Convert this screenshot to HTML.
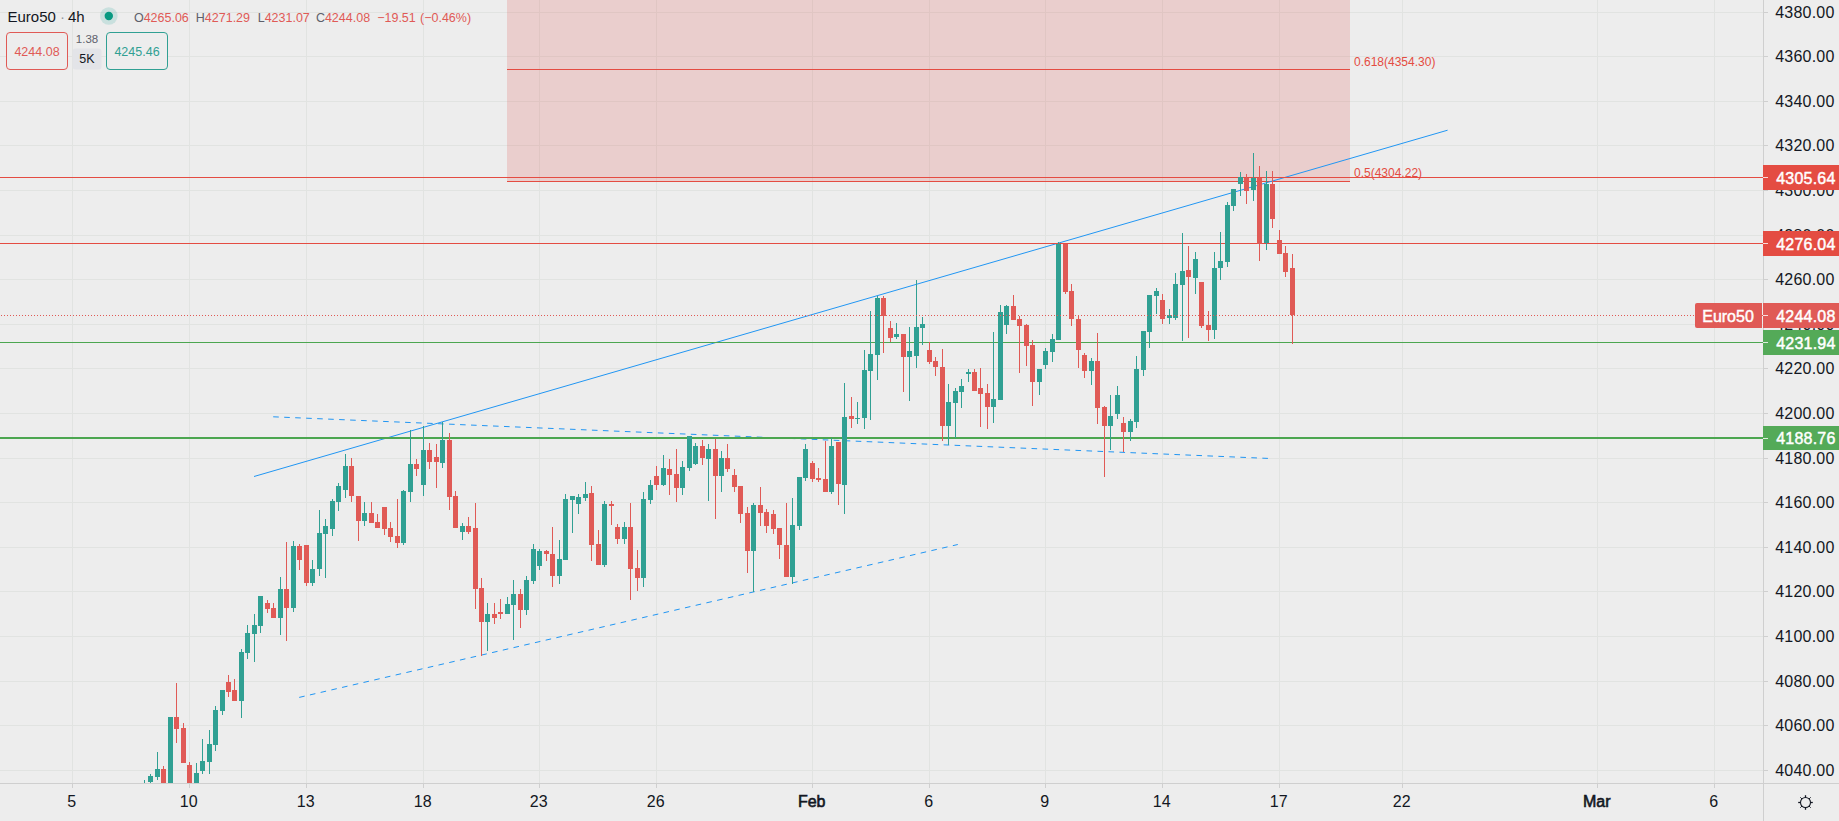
<!DOCTYPE html><html><head><meta charset="utf-8"><style>html,body{margin:0;padding:0;}body{width:1839px;height:821px;overflow:hidden;background:#ededed;font-family:"Liberation Sans", sans-serif;}svg{display:block;}</style></head><body>
<svg width="1839" height="821" viewBox="0 0 1839 821" font-family='"Liberation Sans", sans-serif'>
<rect x="0" y="0" width="1839" height="821" fill="#ededed"/>
<defs><clipPath id="pane"><rect x="0" y="0" width="1763" height="783"/></clipPath></defs>
<g><rect x="0" y="12" width="1763" height="1" fill="#e1e3e1"/><rect x="0" y="56" width="1763" height="1" fill="#e1e3e1"/><rect x="0" y="101" width="1763" height="1" fill="#e1e3e1"/><rect x="0" y="145" width="1763" height="1" fill="#e1e3e1"/><rect x="0" y="190" width="1763" height="1" fill="#e1e3e1"/><rect x="0" y="235" width="1763" height="1" fill="#e1e3e1"/><rect x="0" y="279" width="1763" height="1" fill="#e1e3e1"/><rect x="0" y="324" width="1763" height="1" fill="#e1e3e1"/><rect x="0" y="368" width="1763" height="1" fill="#e1e3e1"/><rect x="0" y="413" width="1763" height="1" fill="#e1e3e1"/><rect x="0" y="458" width="1763" height="1" fill="#e1e3e1"/><rect x="0" y="502" width="1763" height="1" fill="#e1e3e1"/><rect x="0" y="547" width="1763" height="1" fill="#e1e3e1"/><rect x="0" y="591" width="1763" height="1" fill="#e1e3e1"/><rect x="0" y="636" width="1763" height="1" fill="#e1e3e1"/><rect x="0" y="681" width="1763" height="1" fill="#e1e3e1"/><rect x="0" y="725" width="1763" height="1" fill="#e1e3e1"/><rect x="0" y="770" width="1763" height="1" fill="#e1e3e1"/><rect x="72" y="0" width="1" height="783" fill="#e1e3e1"/><rect x="189" y="0" width="1" height="783" fill="#e1e3e1"/><rect x="306" y="0" width="1" height="783" fill="#e1e3e1"/><rect x="423" y="0" width="1" height="783" fill="#e1e3e1"/><rect x="539" y="0" width="1" height="783" fill="#e1e3e1"/><rect x="656" y="0" width="1" height="783" fill="#e1e3e1"/><rect x="812" y="0" width="1" height="783" fill="#e1e3e1"/><rect x="929" y="0" width="1" height="783" fill="#e1e3e1"/><rect x="1045" y="0" width="1" height="783" fill="#e1e3e1"/><rect x="1162" y="0" width="1" height="783" fill="#e1e3e1"/><rect x="1279" y="0" width="1" height="783" fill="#e1e3e1"/><rect x="1402" y="0" width="1" height="783" fill="#e1e3e1"/><rect x="1597" y="0" width="1" height="783" fill="#e1e3e1"/><rect x="1714" y="0" width="1" height="783" fill="#e1e3e1"/></g>
<g clip-path="url(#pane)">
<rect x="507" y="0" width="843" height="181" fill="#e05a56" fill-opacity="0.21"/>
<rect x="507" y="69" width="843" height="1" fill="#e44c42"/>
<rect x="507" y="181" width="843" height="1" fill="#e44c42"/>
<text x="1354" y="65.5" font-size="12" fill="#e44c42">0.618(4354.30)</text>
<text x="1354" y="176.5" font-size="12" fill="#e44c42">0.5(4304.22)</text>
<line x1="254" y1="476.5" x2="1447.6" y2="130.2" stroke="#2196f3" stroke-width="1"/>
<line x1="273.2" y1="416.8" x2="1268" y2="458.4" stroke="#2196f3" stroke-width="1" stroke-dasharray="5.6 5.4"/>
<line x1="299.2" y1="697.4" x2="957.8" y2="544.5" stroke="#2196f3" stroke-width="1" stroke-dasharray="5.6 5.4"/>
<rect x="0" y="177" width="1763" height="1" fill="#e44c42"/>
<rect x="0" y="243" width="1763" height="1" fill="#e44c42"/>
<rect x="0" y="342" width="1763" height="1" fill="#4ca650"/>
<rect x="0" y="437" width="1763" height="2" fill="#4ca650"/>
<g shape-rendering="crispEdges"><rect x="144" y="780" width="1" height="10" fill="#30a093"/><rect x="142" y="783" width="5" height="7" fill="#30a093"/><rect x="150" y="774" width="1" height="9" fill="#30a093"/><rect x="148" y="776" width="5" height="6" fill="#30a093"/><rect x="157" y="752" width="1" height="28" fill="#30a093"/><rect x="155" y="769" width="5" height="8" fill="#30a093"/><rect x="163" y="766" width="1" height="34" fill="#e05a56"/><rect x="161" y="769" width="5" height="31" fill="#e05a56"/><rect x="170" y="717" width="1" height="83" fill="#30a093"/><rect x="168" y="717" width="5" height="83" fill="#30a093"/><rect x="176" y="683" width="1" height="60" fill="#e05a56"/><rect x="174" y="717" width="5" height="12" fill="#e05a56"/><rect x="183" y="723" width="1" height="40" fill="#e05a56"/><rect x="181" y="728" width="5" height="35" fill="#e05a56"/><rect x="189" y="762" width="1" height="38" fill="#e05a56"/><rect x="187" y="765" width="5" height="35" fill="#e05a56"/><rect x="196" y="763" width="1" height="37" fill="#30a093"/><rect x="194" y="773" width="5" height="27" fill="#30a093"/><rect x="202" y="739" width="1" height="35" fill="#30a093"/><rect x="200" y="761" width="5" height="10" fill="#30a093"/><rect x="209" y="730" width="1" height="44" fill="#30a093"/><rect x="207" y="744" width="5" height="18" fill="#30a093"/><rect x="215" y="706" width="1" height="45" fill="#30a093"/><rect x="213" y="710" width="5" height="35" fill="#30a093"/><rect x="222" y="690" width="1" height="25" fill="#30a093"/><rect x="220" y="690" width="5" height="21" fill="#30a093"/><rect x="228" y="675" width="1" height="22" fill="#e05a56"/><rect x="226" y="682" width="5" height="10" fill="#e05a56"/><rect x="234" y="679" width="1" height="22" fill="#e05a56"/><rect x="232" y="690" width="5" height="11" fill="#e05a56"/><rect x="241" y="649" width="1" height="69" fill="#30a093"/><rect x="239" y="652" width="5" height="49" fill="#30a093"/><rect x="247" y="625" width="1" height="34" fill="#30a093"/><rect x="245" y="633" width="5" height="20" fill="#30a093"/><rect x="254" y="614" width="1" height="48" fill="#30a093"/><rect x="252" y="625" width="5" height="9" fill="#30a093"/><rect x="260" y="596" width="1" height="37" fill="#30a093"/><rect x="258" y="596" width="5" height="30" fill="#30a093"/><rect x="267" y="600" width="1" height="13" fill="#e05a56"/><rect x="265" y="603" width="5" height="6" fill="#e05a56"/><rect x="273" y="603" width="1" height="15" fill="#e05a56"/><rect x="271" y="608" width="5" height="10" fill="#e05a56"/><rect x="280" y="577" width="1" height="58" fill="#30a093"/><rect x="278" y="589" width="5" height="29" fill="#30a093"/><rect x="286" y="542" width="1" height="99" fill="#e05a56"/><rect x="284" y="589" width="5" height="19" fill="#e05a56"/><rect x="293" y="541" width="1" height="71" fill="#30a093"/><rect x="291" y="546" width="5" height="62" fill="#30a093"/><rect x="299" y="544" width="1" height="26" fill="#e05a56"/><rect x="297" y="546" width="5" height="14" fill="#e05a56"/><rect x="306" y="545" width="1" height="41" fill="#e05a56"/><rect x="304" y="545" width="5" height="38" fill="#e05a56"/><rect x="312" y="560" width="1" height="26" fill="#30a093"/><rect x="310" y="569" width="5" height="14" fill="#30a093"/><rect x="319" y="510" width="1" height="66" fill="#30a093"/><rect x="317" y="533" width="5" height="36" fill="#30a093"/><rect x="325" y="519" width="1" height="59" fill="#30a093"/><rect x="323" y="526" width="5" height="8" fill="#30a093"/><rect x="332" y="499" width="1" height="37" fill="#30a093"/><rect x="330" y="501" width="5" height="28" fill="#30a093"/><rect x="338" y="483" width="1" height="28" fill="#30a093"/><rect x="336" y="486" width="5" height="16" fill="#30a093"/><rect x="345" y="454" width="1" height="44" fill="#30a093"/><rect x="343" y="466" width="5" height="24" fill="#30a093"/><rect x="351" y="458" width="1" height="44" fill="#e05a56"/><rect x="349" y="466" width="5" height="30" fill="#e05a56"/><rect x="358" y="496" width="1" height="45" fill="#e05a56"/><rect x="356" y="496" width="5" height="25" fill="#e05a56"/><rect x="364" y="502" width="1" height="24" fill="#30a093"/><rect x="362" y="513" width="5" height="8" fill="#30a093"/><rect x="371" y="502" width="1" height="21" fill="#e05a56"/><rect x="369" y="513" width="5" height="10" fill="#e05a56"/><rect x="377" y="514" width="1" height="14" fill="#e05a56"/><rect x="375" y="522" width="5" height="6" fill="#e05a56"/><rect x="384" y="507" width="1" height="28" fill="#e05a56"/><rect x="382" y="507" width="5" height="22" fill="#e05a56"/><rect x="390" y="522" width="1" height="20" fill="#e05a56"/><rect x="388" y="528" width="5" height="9" fill="#e05a56"/><rect x="397" y="499" width="1" height="49" fill="#e05a56"/><rect x="395" y="536" width="5" height="7" fill="#e05a56"/><rect x="403" y="490" width="1" height="55" fill="#30a093"/><rect x="401" y="491" width="5" height="52" fill="#30a093"/><rect x="410" y="430" width="1" height="72" fill="#30a093"/><rect x="408" y="464" width="5" height="28" fill="#30a093"/><rect x="416" y="459" width="1" height="17" fill="#e05a56"/><rect x="414" y="464" width="5" height="5" fill="#e05a56"/><rect x="423" y="426" width="1" height="70" fill="#30a093"/><rect x="421" y="450" width="5" height="35" fill="#30a093"/><rect x="429" y="443" width="1" height="26" fill="#e05a56"/><rect x="427" y="450" width="5" height="12" fill="#e05a56"/><rect x="436" y="444" width="1" height="44" fill="#e05a56"/><rect x="434" y="457" width="5" height="5" fill="#e05a56"/><rect x="442" y="422" width="1" height="46" fill="#30a093"/><rect x="440" y="440" width="5" height="23" fill="#30a093"/><rect x="449" y="433" width="1" height="77" fill="#e05a56"/><rect x="447" y="440" width="5" height="57" fill="#e05a56"/><rect x="455" y="491" width="1" height="37" fill="#e05a56"/><rect x="453" y="496" width="5" height="32" fill="#e05a56"/><rect x="462" y="523" width="1" height="17" fill="#30a093"/><rect x="460" y="526" width="5" height="6" fill="#30a093"/><rect x="468" y="517" width="1" height="17" fill="#e05a56"/><rect x="466" y="526" width="5" height="6" fill="#e05a56"/><rect x="475" y="503" width="1" height="106" fill="#e05a56"/><rect x="473" y="528" width="5" height="61" fill="#e05a56"/><rect x="481" y="578" width="1" height="78" fill="#e05a56"/><rect x="479" y="588" width="5" height="34" fill="#e05a56"/><rect x="487" y="603" width="1" height="48" fill="#30a093"/><rect x="485" y="614" width="5" height="8" fill="#30a093"/><rect x="494" y="603" width="1" height="21" fill="#e05a56"/><rect x="492" y="614" width="5" height="4" fill="#e05a56"/><rect x="500" y="599" width="1" height="20" fill="#e05a56"/><rect x="498" y="612" width="5" height="2" fill="#e05a56"/><rect x="507" y="597" width="1" height="17" fill="#30a093"/><rect x="505" y="604" width="5" height="10" fill="#30a093"/><rect x="513" y="580" width="1" height="60" fill="#30a093"/><rect x="511" y="594" width="5" height="11" fill="#30a093"/><rect x="520" y="589" width="1" height="39" fill="#e05a56"/><rect x="518" y="594" width="5" height="16" fill="#e05a56"/><rect x="526" y="576" width="1" height="39" fill="#30a093"/><rect x="524" y="580" width="5" height="30" fill="#30a093"/><rect x="533" y="544" width="1" height="40" fill="#30a093"/><rect x="531" y="549" width="5" height="32" fill="#30a093"/><rect x="539" y="549" width="1" height="21" fill="#30a093"/><rect x="537" y="551" width="5" height="15" fill="#30a093"/><rect x="546" y="550" width="1" height="11" fill="#e05a56"/><rect x="544" y="551" width="5" height="3" fill="#e05a56"/><rect x="552" y="527" width="1" height="60" fill="#e05a56"/><rect x="550" y="554" width="5" height="22" fill="#e05a56"/><rect x="559" y="540" width="1" height="44" fill="#30a093"/><rect x="557" y="559" width="5" height="17" fill="#30a093"/><rect x="565" y="494" width="1" height="66" fill="#30a093"/><rect x="563" y="499" width="5" height="61" fill="#30a093"/><rect x="572" y="496" width="1" height="37" fill="#30a093"/><rect x="570" y="496" width="5" height="4" fill="#30a093"/><rect x="578" y="494" width="1" height="20" fill="#30a093"/><rect x="576" y="497" width="5" height="7" fill="#30a093"/><rect x="585" y="482" width="1" height="19" fill="#30a093"/><rect x="583" y="494" width="5" height="4" fill="#30a093"/><rect x="591" y="486" width="1" height="75" fill="#e05a56"/><rect x="589" y="493" width="5" height="52" fill="#e05a56"/><rect x="598" y="530" width="1" height="35" fill="#e05a56"/><rect x="596" y="544" width="5" height="21" fill="#e05a56"/><rect x="604" y="501" width="1" height="66" fill="#30a093"/><rect x="602" y="504" width="5" height="61" fill="#30a093"/><rect x="611" y="501" width="1" height="24" fill="#e05a56"/><rect x="609" y="504" width="5" height="2" fill="#e05a56"/><rect x="617" y="524" width="1" height="20" fill="#e05a56"/><rect x="615" y="527" width="5" height="12" fill="#e05a56"/><rect x="624" y="522" width="1" height="22" fill="#30a093"/><rect x="622" y="527" width="5" height="12" fill="#30a093"/><rect x="630" y="503" width="1" height="97" fill="#e05a56"/><rect x="628" y="527" width="5" height="42" fill="#e05a56"/><rect x="637" y="550" width="1" height="41" fill="#e05a56"/><rect x="635" y="568" width="5" height="10" fill="#e05a56"/><rect x="643" y="492" width="1" height="95" fill="#30a093"/><rect x="641" y="499" width="5" height="79" fill="#30a093"/><rect x="650" y="480" width="1" height="24" fill="#30a093"/><rect x="648" y="485" width="5" height="15" fill="#30a093"/><rect x="656" y="466" width="1" height="24" fill="#e05a56"/><rect x="654" y="476" width="5" height="9" fill="#e05a56"/><rect x="663" y="455" width="1" height="31" fill="#30a093"/><rect x="661" y="468" width="5" height="17" fill="#30a093"/><rect x="669" y="459" width="1" height="36" fill="#e05a56"/><rect x="667" y="469" width="5" height="6" fill="#e05a56"/><rect x="676" y="449" width="1" height="53" fill="#e05a56"/><rect x="674" y="474" width="5" height="14" fill="#e05a56"/><rect x="682" y="461" width="1" height="34" fill="#30a093"/><rect x="680" y="467" width="5" height="21" fill="#30a093"/><rect x="689" y="436" width="1" height="35" fill="#30a093"/><rect x="687" y="436" width="5" height="32" fill="#30a093"/><rect x="695" y="443" width="1" height="22" fill="#30a093"/><rect x="693" y="446" width="5" height="18" fill="#30a093"/><rect x="702" y="440" width="1" height="25" fill="#e05a56"/><rect x="700" y="446" width="5" height="12" fill="#e05a56"/><rect x="708" y="444" width="1" height="57" fill="#30a093"/><rect x="706" y="449" width="5" height="10" fill="#30a093"/><rect x="715" y="439" width="1" height="80" fill="#e05a56"/><rect x="713" y="449" width="5" height="27" fill="#e05a56"/><rect x="721" y="451" width="1" height="41" fill="#30a093"/><rect x="719" y="458" width="5" height="18" fill="#30a093"/><rect x="727" y="444" width="1" height="28" fill="#e05a56"/><rect x="725" y="458" width="5" height="11" fill="#e05a56"/><rect x="734" y="469" width="1" height="23" fill="#e05a56"/><rect x="732" y="475" width="5" height="12" fill="#e05a56"/><rect x="740" y="486" width="1" height="37" fill="#e05a56"/><rect x="738" y="486" width="5" height="28" fill="#e05a56"/><rect x="747" y="507" width="1" height="66" fill="#e05a56"/><rect x="745" y="513" width="5" height="38" fill="#e05a56"/><rect x="753" y="503" width="1" height="89" fill="#30a093"/><rect x="751" y="505" width="5" height="46" fill="#30a093"/><rect x="760" y="487" width="1" height="39" fill="#e05a56"/><rect x="758" y="505" width="5" height="8" fill="#e05a56"/><rect x="766" y="509" width="1" height="24" fill="#e05a56"/><rect x="764" y="512" width="5" height="14" fill="#e05a56"/><rect x="773" y="510" width="1" height="24" fill="#e05a56"/><rect x="771" y="514" width="5" height="15" fill="#e05a56"/><rect x="779" y="528" width="1" height="31" fill="#e05a56"/><rect x="777" y="528" width="5" height="17" fill="#e05a56"/><rect x="786" y="503" width="1" height="74" fill="#e05a56"/><rect x="784" y="545" width="5" height="32" fill="#e05a56"/><rect x="792" y="498" width="1" height="86" fill="#30a093"/><rect x="790" y="525" width="5" height="52" fill="#30a093"/><rect x="799" y="477" width="1" height="53" fill="#30a093"/><rect x="797" y="477" width="5" height="49" fill="#30a093"/><rect x="805" y="444" width="1" height="37" fill="#30a093"/><rect x="803" y="449" width="5" height="29" fill="#30a093"/><rect x="812" y="461" width="1" height="21" fill="#e05a56"/><rect x="810" y="463" width="5" height="16" fill="#e05a56"/><rect x="818" y="468" width="1" height="14" fill="#e05a56"/><rect x="816" y="478" width="5" height="2" fill="#e05a56"/><rect x="825" y="441" width="1" height="51" fill="#e05a56"/><rect x="823" y="479" width="5" height="13" fill="#e05a56"/><rect x="831" y="438" width="1" height="56" fill="#30a093"/><rect x="829" y="446" width="5" height="46" fill="#30a093"/><rect x="838" y="442" width="1" height="63" fill="#e05a56"/><rect x="836" y="442" width="5" height="42" fill="#e05a56"/><rect x="844" y="383" width="1" height="131" fill="#30a093"/><rect x="842" y="417" width="5" height="68" fill="#30a093"/><rect x="851" y="397" width="1" height="31" fill="#e05a56"/><rect x="849" y="416" width="5" height="3" fill="#e05a56"/><rect x="857" y="402" width="1" height="22" fill="#30a093"/><rect x="855" y="418" width="5" height="1" fill="#30a093"/><rect x="864" y="350" width="1" height="79" fill="#30a093"/><rect x="862" y="370" width="5" height="48" fill="#30a093"/><rect x="870" y="311" width="1" height="109" fill="#30a093"/><rect x="868" y="354" width="5" height="17" fill="#30a093"/><rect x="877" y="296" width="1" height="84" fill="#30a093"/><rect x="875" y="298" width="5" height="57" fill="#30a093"/><rect x="883" y="296" width="1" height="57" fill="#e05a56"/><rect x="881" y="298" width="5" height="18" fill="#e05a56"/><rect x="890" y="321" width="1" height="21" fill="#e05a56"/><rect x="888" y="328" width="5" height="10" fill="#e05a56"/><rect x="896" y="323" width="1" height="16" fill="#30a093"/><rect x="894" y="334" width="5" height="3" fill="#30a093"/><rect x="903" y="334" width="1" height="58" fill="#e05a56"/><rect x="901" y="334" width="5" height="23" fill="#e05a56"/><rect x="909" y="327" width="1" height="74" fill="#30a093"/><rect x="907" y="351" width="5" height="6" fill="#30a093"/><rect x="916" y="280" width="1" height="88" fill="#30a093"/><rect x="914" y="327" width="5" height="29" fill="#30a093"/><rect x="922" y="317" width="1" height="28" fill="#30a093"/><rect x="920" y="324" width="5" height="4" fill="#30a093"/><rect x="929" y="342" width="1" height="22" fill="#e05a56"/><rect x="927" y="350" width="5" height="12" fill="#e05a56"/><rect x="935" y="357" width="1" height="19" fill="#e05a56"/><rect x="933" y="361" width="5" height="6" fill="#e05a56"/><rect x="942" y="349" width="1" height="92" fill="#e05a56"/><rect x="940" y="367" width="5" height="59" fill="#e05a56"/><rect x="948" y="384" width="1" height="61" fill="#30a093"/><rect x="946" y="402" width="5" height="24" fill="#30a093"/><rect x="955" y="388" width="1" height="50" fill="#30a093"/><rect x="953" y="391" width="5" height="12" fill="#30a093"/><rect x="961" y="379" width="1" height="29" fill="#30a093"/><rect x="959" y="386" width="5" height="6" fill="#30a093"/><rect x="968" y="369" width="1" height="13" fill="#30a093"/><rect x="966" y="372" width="5" height="2" fill="#30a093"/><rect x="974" y="369" width="1" height="22" fill="#e05a56"/><rect x="972" y="372" width="5" height="19" fill="#e05a56"/><rect x="980" y="368" width="1" height="59" fill="#e05a56"/><rect x="978" y="388" width="5" height="6" fill="#e05a56"/><rect x="987" y="384" width="1" height="45" fill="#e05a56"/><rect x="985" y="393" width="5" height="14" fill="#e05a56"/><rect x="993" y="332" width="1" height="91" fill="#30a093"/><rect x="991" y="399" width="5" height="8" fill="#30a093"/><rect x="1000" y="305" width="1" height="95" fill="#30a093"/><rect x="998" y="312" width="5" height="88" fill="#30a093"/><rect x="1006" y="305" width="1" height="29" fill="#30a093"/><rect x="1004" y="306" width="5" height="19" fill="#30a093"/><rect x="1013" y="295" width="1" height="25" fill="#e05a56"/><rect x="1011" y="306" width="5" height="14" fill="#e05a56"/><rect x="1019" y="316" width="1" height="57" fill="#e05a56"/><rect x="1017" y="319" width="5" height="7" fill="#e05a56"/><rect x="1026" y="324" width="1" height="42" fill="#e05a56"/><rect x="1024" y="325" width="5" height="21" fill="#e05a56"/><rect x="1032" y="340" width="1" height="66" fill="#e05a56"/><rect x="1030" y="345" width="5" height="37" fill="#e05a56"/><rect x="1039" y="369" width="1" height="26" fill="#30a093"/><rect x="1037" y="369" width="5" height="13" fill="#30a093"/><rect x="1045" y="348" width="1" height="21" fill="#30a093"/><rect x="1043" y="351" width="5" height="14" fill="#30a093"/><rect x="1052" y="334" width="1" height="28" fill="#30a093"/><rect x="1050" y="339" width="5" height="13" fill="#30a093"/><rect x="1058" y="242" width="1" height="98" fill="#30a093"/><rect x="1056" y="244" width="5" height="96" fill="#30a093"/><rect x="1065" y="244" width="1" height="50" fill="#e05a56"/><rect x="1063" y="244" width="5" height="48" fill="#e05a56"/><rect x="1071" y="284" width="1" height="42" fill="#e05a56"/><rect x="1069" y="291" width="5" height="28" fill="#e05a56"/><rect x="1078" y="316" width="1" height="52" fill="#e05a56"/><rect x="1076" y="319" width="5" height="31" fill="#e05a56"/><rect x="1084" y="353" width="1" height="25" fill="#e05a56"/><rect x="1082" y="355" width="5" height="16" fill="#e05a56"/><rect x="1091" y="358" width="1" height="27" fill="#30a093"/><rect x="1089" y="361" width="5" height="10" fill="#30a093"/><rect x="1097" y="333" width="1" height="91" fill="#e05a56"/><rect x="1095" y="361" width="5" height="47" fill="#e05a56"/><rect x="1104" y="406" width="1" height="71" fill="#e05a56"/><rect x="1102" y="407" width="5" height="19" fill="#e05a56"/><rect x="1110" y="395" width="1" height="55" fill="#30a093"/><rect x="1108" y="416" width="5" height="10" fill="#30a093"/><rect x="1117" y="386" width="1" height="33" fill="#30a093"/><rect x="1115" y="395" width="5" height="19" fill="#30a093"/><rect x="1123" y="417" width="1" height="35" fill="#e05a56"/><rect x="1121" y="423" width="5" height="9" fill="#e05a56"/><rect x="1130" y="419" width="1" height="22" fill="#30a093"/><rect x="1128" y="421" width="5" height="11" fill="#30a093"/><rect x="1136" y="356" width="1" height="72" fill="#30a093"/><rect x="1134" y="369" width="5" height="53" fill="#30a093"/><rect x="1143" y="331" width="1" height="45" fill="#30a093"/><rect x="1141" y="331" width="5" height="39" fill="#30a093"/><rect x="1149" y="295" width="1" height="53" fill="#30a093"/><rect x="1147" y="295" width="5" height="37" fill="#30a093"/><rect x="1156" y="288" width="1" height="26" fill="#30a093"/><rect x="1154" y="291" width="5" height="5" fill="#30a093"/><rect x="1162" y="294" width="1" height="30" fill="#e05a56"/><rect x="1160" y="300" width="5" height="19" fill="#e05a56"/><rect x="1169" y="309" width="1" height="15" fill="#30a093"/><rect x="1167" y="315" width="5" height="3" fill="#30a093"/><rect x="1175" y="273" width="1" height="47" fill="#30a093"/><rect x="1173" y="284" width="5" height="34" fill="#30a093"/><rect x="1182" y="233" width="1" height="108" fill="#30a093"/><rect x="1180" y="271" width="5" height="14" fill="#30a093"/><rect x="1188" y="246" width="1" height="92" fill="#e05a56"/><rect x="1186" y="270" width="5" height="7" fill="#e05a56"/><rect x="1195" y="252" width="1" height="42" fill="#30a093"/><rect x="1193" y="259" width="5" height="19" fill="#30a093"/><rect x="1201" y="282" width="1" height="46" fill="#e05a56"/><rect x="1199" y="282" width="5" height="44" fill="#e05a56"/><rect x="1208" y="311" width="1" height="30" fill="#e05a56"/><rect x="1206" y="325" width="5" height="5" fill="#e05a56"/><rect x="1214" y="252" width="1" height="87" fill="#30a093"/><rect x="1212" y="268" width="5" height="62" fill="#30a093"/><rect x="1220" y="232" width="1" height="48" fill="#30a093"/><rect x="1218" y="261" width="5" height="7" fill="#30a093"/><rect x="1227" y="202" width="1" height="65" fill="#30a093"/><rect x="1225" y="205" width="5" height="57" fill="#30a093"/><rect x="1233" y="189" width="1" height="22" fill="#30a093"/><rect x="1231" y="189" width="5" height="17" fill="#30a093"/><rect x="1240" y="172" width="1" height="24" fill="#30a093"/><rect x="1238" y="177" width="5" height="7" fill="#30a093"/><rect x="1246" y="174" width="1" height="30" fill="#e05a56"/><rect x="1244" y="178" width="5" height="13" fill="#e05a56"/><rect x="1253" y="153" width="1" height="48" fill="#30a093"/><rect x="1251" y="178" width="5" height="12" fill="#30a093"/><rect x="1259" y="166" width="1" height="95" fill="#e05a56"/><rect x="1257" y="178" width="5" height="66" fill="#e05a56"/><rect x="1266" y="171" width="1" height="79" fill="#30a093"/><rect x="1264" y="184" width="5" height="59" fill="#30a093"/><rect x="1272" y="171" width="1" height="57" fill="#e05a56"/><rect x="1270" y="184" width="5" height="35" fill="#e05a56"/><rect x="1279" y="230" width="1" height="24" fill="#e05a56"/><rect x="1277" y="240" width="5" height="14" fill="#e05a56"/><rect x="1285" y="246" width="1" height="31" fill="#e05a56"/><rect x="1283" y="253" width="5" height="19" fill="#e05a56"/><rect x="1292" y="254" width="1" height="90" fill="#e05a56"/><rect x="1290" y="268" width="5" height="47" fill="#e05a56"/></g>
<line x1="0" y1="315.5" x2="1763" y2="315.5" stroke="#e05a56" stroke-width="1" stroke-dasharray="1 2" stroke-dashoffset="2"/>
</g>
<rect x="1763" y="0" width="1" height="821" fill="#cfcfcf"/>
<rect x="0" y="783" width="1839" height="1" fill="#cfcfcf"/>
<g><rect x="1764" y="12" width="4" height="1" fill="#cfcfcf"/><text x="1834.5" y="18" font-size="16" text-anchor="end" fill="#131722" letter-spacing="0.2">4380.00</text><rect x="1764" y="56" width="4" height="1" fill="#cfcfcf"/><text x="1834.5" y="62" font-size="16" text-anchor="end" fill="#131722" letter-spacing="0.2">4360.00</text><rect x="1764" y="101" width="4" height="1" fill="#cfcfcf"/><text x="1834.5" y="107" font-size="16" text-anchor="end" fill="#131722" letter-spacing="0.2">4340.00</text><rect x="1764" y="145" width="4" height="1" fill="#cfcfcf"/><text x="1834.5" y="151" font-size="16" text-anchor="end" fill="#131722" letter-spacing="0.2">4320.00</text><rect x="1764" y="190" width="4" height="1" fill="#cfcfcf"/><text x="1834.5" y="196" font-size="16" text-anchor="end" fill="#131722" letter-spacing="0.2">4300.00</text><rect x="1764" y="235" width="4" height="1" fill="#cfcfcf"/><text x="1834.5" y="241" font-size="16" text-anchor="end" fill="#131722" letter-spacing="0.2">4280.00</text><rect x="1764" y="279" width="4" height="1" fill="#cfcfcf"/><text x="1834.5" y="285" font-size="16" text-anchor="end" fill="#131722" letter-spacing="0.2">4260.00</text><rect x="1764" y="324" width="4" height="1" fill="#cfcfcf"/><text x="1834.5" y="330" font-size="16" text-anchor="end" fill="#131722" letter-spacing="0.2">4240.00</text><rect x="1764" y="368" width="4" height="1" fill="#cfcfcf"/><text x="1834.5" y="374" font-size="16" text-anchor="end" fill="#131722" letter-spacing="0.2">4220.00</text><rect x="1764" y="413" width="4" height="1" fill="#cfcfcf"/><text x="1834.5" y="419" font-size="16" text-anchor="end" fill="#131722" letter-spacing="0.2">4200.00</text><rect x="1764" y="458" width="4" height="1" fill="#cfcfcf"/><text x="1834.5" y="464" font-size="16" text-anchor="end" fill="#131722" letter-spacing="0.2">4180.00</text><rect x="1764" y="502" width="4" height="1" fill="#cfcfcf"/><text x="1834.5" y="508" font-size="16" text-anchor="end" fill="#131722" letter-spacing="0.2">4160.00</text><rect x="1764" y="547" width="4" height="1" fill="#cfcfcf"/><text x="1834.5" y="553" font-size="16" text-anchor="end" fill="#131722" letter-spacing="0.2">4140.00</text><rect x="1764" y="591" width="4" height="1" fill="#cfcfcf"/><text x="1834.5" y="597" font-size="16" text-anchor="end" fill="#131722" letter-spacing="0.2">4120.00</text><rect x="1764" y="636" width="4" height="1" fill="#cfcfcf"/><text x="1834.5" y="642" font-size="16" text-anchor="end" fill="#131722" letter-spacing="0.2">4100.00</text><rect x="1764" y="681" width="4" height="1" fill="#cfcfcf"/><text x="1834.5" y="687" font-size="16" text-anchor="end" fill="#131722" letter-spacing="0.2">4080.00</text><rect x="1764" y="725" width="4" height="1" fill="#cfcfcf"/><text x="1834.5" y="731" font-size="16" text-anchor="end" fill="#131722" letter-spacing="0.2">4060.00</text><rect x="1764" y="770" width="4" height="1" fill="#cfcfcf"/><text x="1834.5" y="776" font-size="16" text-anchor="end" fill="#131722" letter-spacing="0.2">4040.00</text></g>
<rect x="1763" y="165" width="76" height="25" fill="#e44c42"/><rect x="1763" y="177" width="5" height="1" fill="#ffffff" fill-opacity="0.8"/><text x="1835.5" y="183.5" font-size="16" text-anchor="end" fill="#ffffff" letter-spacing="0.2" stroke="#ffffff" stroke-width="0.45">4305.64</text>
<rect x="1763" y="231" width="76" height="25" fill="#e44c42"/><rect x="1763" y="243" width="5" height="1" fill="#ffffff" fill-opacity="0.8"/><text x="1835.5" y="249.5" font-size="16" text-anchor="end" fill="#ffffff" letter-spacing="0.2" stroke="#ffffff" stroke-width="0.45">4276.04</text>
<rect x="1763" y="330" width="76" height="25" fill="#54aa58"/><rect x="1763" y="342" width="5" height="1" fill="#ffffff" fill-opacity="0.8"/><text x="1835.5" y="348.5" font-size="16" text-anchor="end" fill="#ffffff" letter-spacing="0.2" stroke="#ffffff" stroke-width="0.45">4231.94</text>
<rect x="1763" y="426" width="76" height="24" fill="#54aa58"/><rect x="1763" y="438" width="5" height="1" fill="#ffffff" fill-opacity="0.8"/><text x="1835.5" y="444.0" font-size="16" text-anchor="end" fill="#ffffff" letter-spacing="0.2" stroke="#ffffff" stroke-width="0.45">4188.76</text>
<rect x="1763" y="303" width="76" height="25" fill="#e05a56"/><rect x="1763" y="315" width="5" height="1" fill="#ffffff" fill-opacity="0.8"/><text x="1835.5" y="321.5" font-size="16" text-anchor="end" fill="#ffffff" letter-spacing="0.2" stroke="#ffffff" stroke-width="0.45">4244.08</text>
<path d="M1697,303 H1762 V328 H1697 Q1695,328 1695,326 V305 Q1695,303 1697,303 Z" fill="#e05a56"/>
<text x="1728" y="322" font-size="16" text-anchor="middle" fill="#ffffff" stroke="#ffffff" stroke-width="0.45">Euro50</text>
<g><rect x="72" y="784" width="1" height="4" fill="#cfcfcf"/><text x="71.7" y="807" font-size="16" text-anchor="middle" fill="#131722">5</text><rect x="189" y="784" width="1" height="4" fill="#cfcfcf"/><text x="188.7" y="807" font-size="16" text-anchor="middle" fill="#131722">10</text><rect x="306" y="784" width="1" height="4" fill="#cfcfcf"/><text x="305.7" y="807" font-size="16" text-anchor="middle" fill="#131722">13</text><rect x="423" y="784" width="1" height="4" fill="#cfcfcf"/><text x="422.7" y="807" font-size="16" text-anchor="middle" fill="#131722">18</text><rect x="539" y="784" width="1" height="4" fill="#cfcfcf"/><text x="538.7" y="807" font-size="16" text-anchor="middle" fill="#131722">23</text><rect x="656" y="784" width="1" height="4" fill="#cfcfcf"/><text x="655.7" y="807" font-size="16" text-anchor="middle" fill="#131722">26</text><rect x="812" y="784" width="1" height="4" fill="#cfcfcf"/><text x="811.7" y="807" font-size="16" text-anchor="middle" fill="#131722" stroke="#131722" stroke-width="0.6">Feb</text><rect x="929" y="784" width="1" height="4" fill="#cfcfcf"/><text x="928.7" y="807" font-size="16" text-anchor="middle" fill="#131722">6</text><rect x="1045" y="784" width="1" height="4" fill="#cfcfcf"/><text x="1044.7" y="807" font-size="16" text-anchor="middle" fill="#131722">9</text><rect x="1162" y="784" width="1" height="4" fill="#cfcfcf"/><text x="1161.7" y="807" font-size="16" text-anchor="middle" fill="#131722">14</text><rect x="1279" y="784" width="1" height="4" fill="#cfcfcf"/><text x="1278.7" y="807" font-size="16" text-anchor="middle" fill="#131722">17</text><rect x="1402" y="784" width="1" height="4" fill="#cfcfcf"/><text x="1401.7" y="807" font-size="16" text-anchor="middle" fill="#131722">22</text><rect x="1597" y="784" width="1" height="4" fill="#cfcfcf"/><text x="1596.7" y="807" font-size="16" text-anchor="middle" fill="#131722" stroke="#131722" stroke-width="0.6">Mar</text><rect x="1714" y="784" width="1" height="4" fill="#cfcfcf"/><text x="1713.7" y="807" font-size="16" text-anchor="middle" fill="#131722">6</text></g>
<circle cx="1805.5" cy="802.5" r="5" fill="none" stroke="#131722" stroke-width="1.1"/><line x1="1810.50" y1="802.50" x2="1812.80" y2="802.50" stroke="#131722" stroke-width="1.3"/><line x1="1809.04" y1="806.04" x2="1810.66" y2="807.66" stroke="#131722" stroke-width="1.0"/><line x1="1805.50" y1="807.50" x2="1805.50" y2="809.80" stroke="#131722" stroke-width="1.3"/><line x1="1801.96" y1="806.04" x2="1800.34" y2="807.66" stroke="#131722" stroke-width="1.0"/><line x1="1800.50" y1="802.50" x2="1798.20" y2="802.50" stroke="#131722" stroke-width="1.3"/><line x1="1801.96" y1="798.96" x2="1800.34" y2="797.34" stroke="#131722" stroke-width="1.0"/><line x1="1805.50" y1="797.50" x2="1805.50" y2="795.20" stroke="#131722" stroke-width="1.3"/><line x1="1809.04" y1="798.96" x2="1810.66" y2="797.34" stroke="#131722" stroke-width="1.0"/>
<text x="7.5" y="22" font-size="15" fill="#131722">Euro50</text><text x="59.9" y="22" font-size="15" fill="#9598a1">·</text><text x="68" y="22" font-size="15" fill="#131722">4h</text>
<circle cx="108.8" cy="16" r="8.8" fill="#26a69a" fill-opacity="0.18"/>
<circle cx="108.8" cy="16" r="4.2" fill="#089981"/>
<text x="133.9" y="22.3" font-size="12.5" fill="#e05a56"><tspan fill="#5d606b">O</tspan>4265.06</text>
<text x="195.8" y="22.3" font-size="12.5" fill="#e05a56"><tspan fill="#5d606b">H</tspan>4271.29</text>
<text x="257.7" y="22.3" font-size="12.5" fill="#e05a56"><tspan fill="#5d606b">L</tspan>4231.07</text>
<text x="315.9" y="22.3" font-size="12.5" fill="#e05a56"><tspan fill="#5d606b">C</tspan>4244.08</text>
<text x="377.2" y="22.3" font-size="12.5" fill="#e05a56">−19.51</text>
<text x="420" y="22.3" font-size="12.5" fill="#e05a56">(−0.46%)</text>
<rect x="6.5" y="32.5" width="61" height="37" rx="3.5" fill="#ededed" stroke="#e05a56" stroke-width="1"/>
<text x="37" y="55.8" font-size="12.5" text-anchor="middle" fill="#e05a56">4244.08</text>
<text x="87" y="42.8" font-size="11.5" text-anchor="middle" fill="#5d606b">1.38</text>
<rect x="72.5" y="48.5" width="29" height="21" rx="3" fill="#e3e4e8"/>
<text x="87" y="62.6" font-size="12.5" text-anchor="middle" fill="#131722">5K</text>
<rect x="106.5" y="32.5" width="61" height="37" rx="3.5" fill="#ededed" stroke="#30a093" stroke-width="1"/>
<text x="137" y="55.8" font-size="12.5" text-anchor="middle" fill="#30a093">4245.46</text>
</svg></body></html>
